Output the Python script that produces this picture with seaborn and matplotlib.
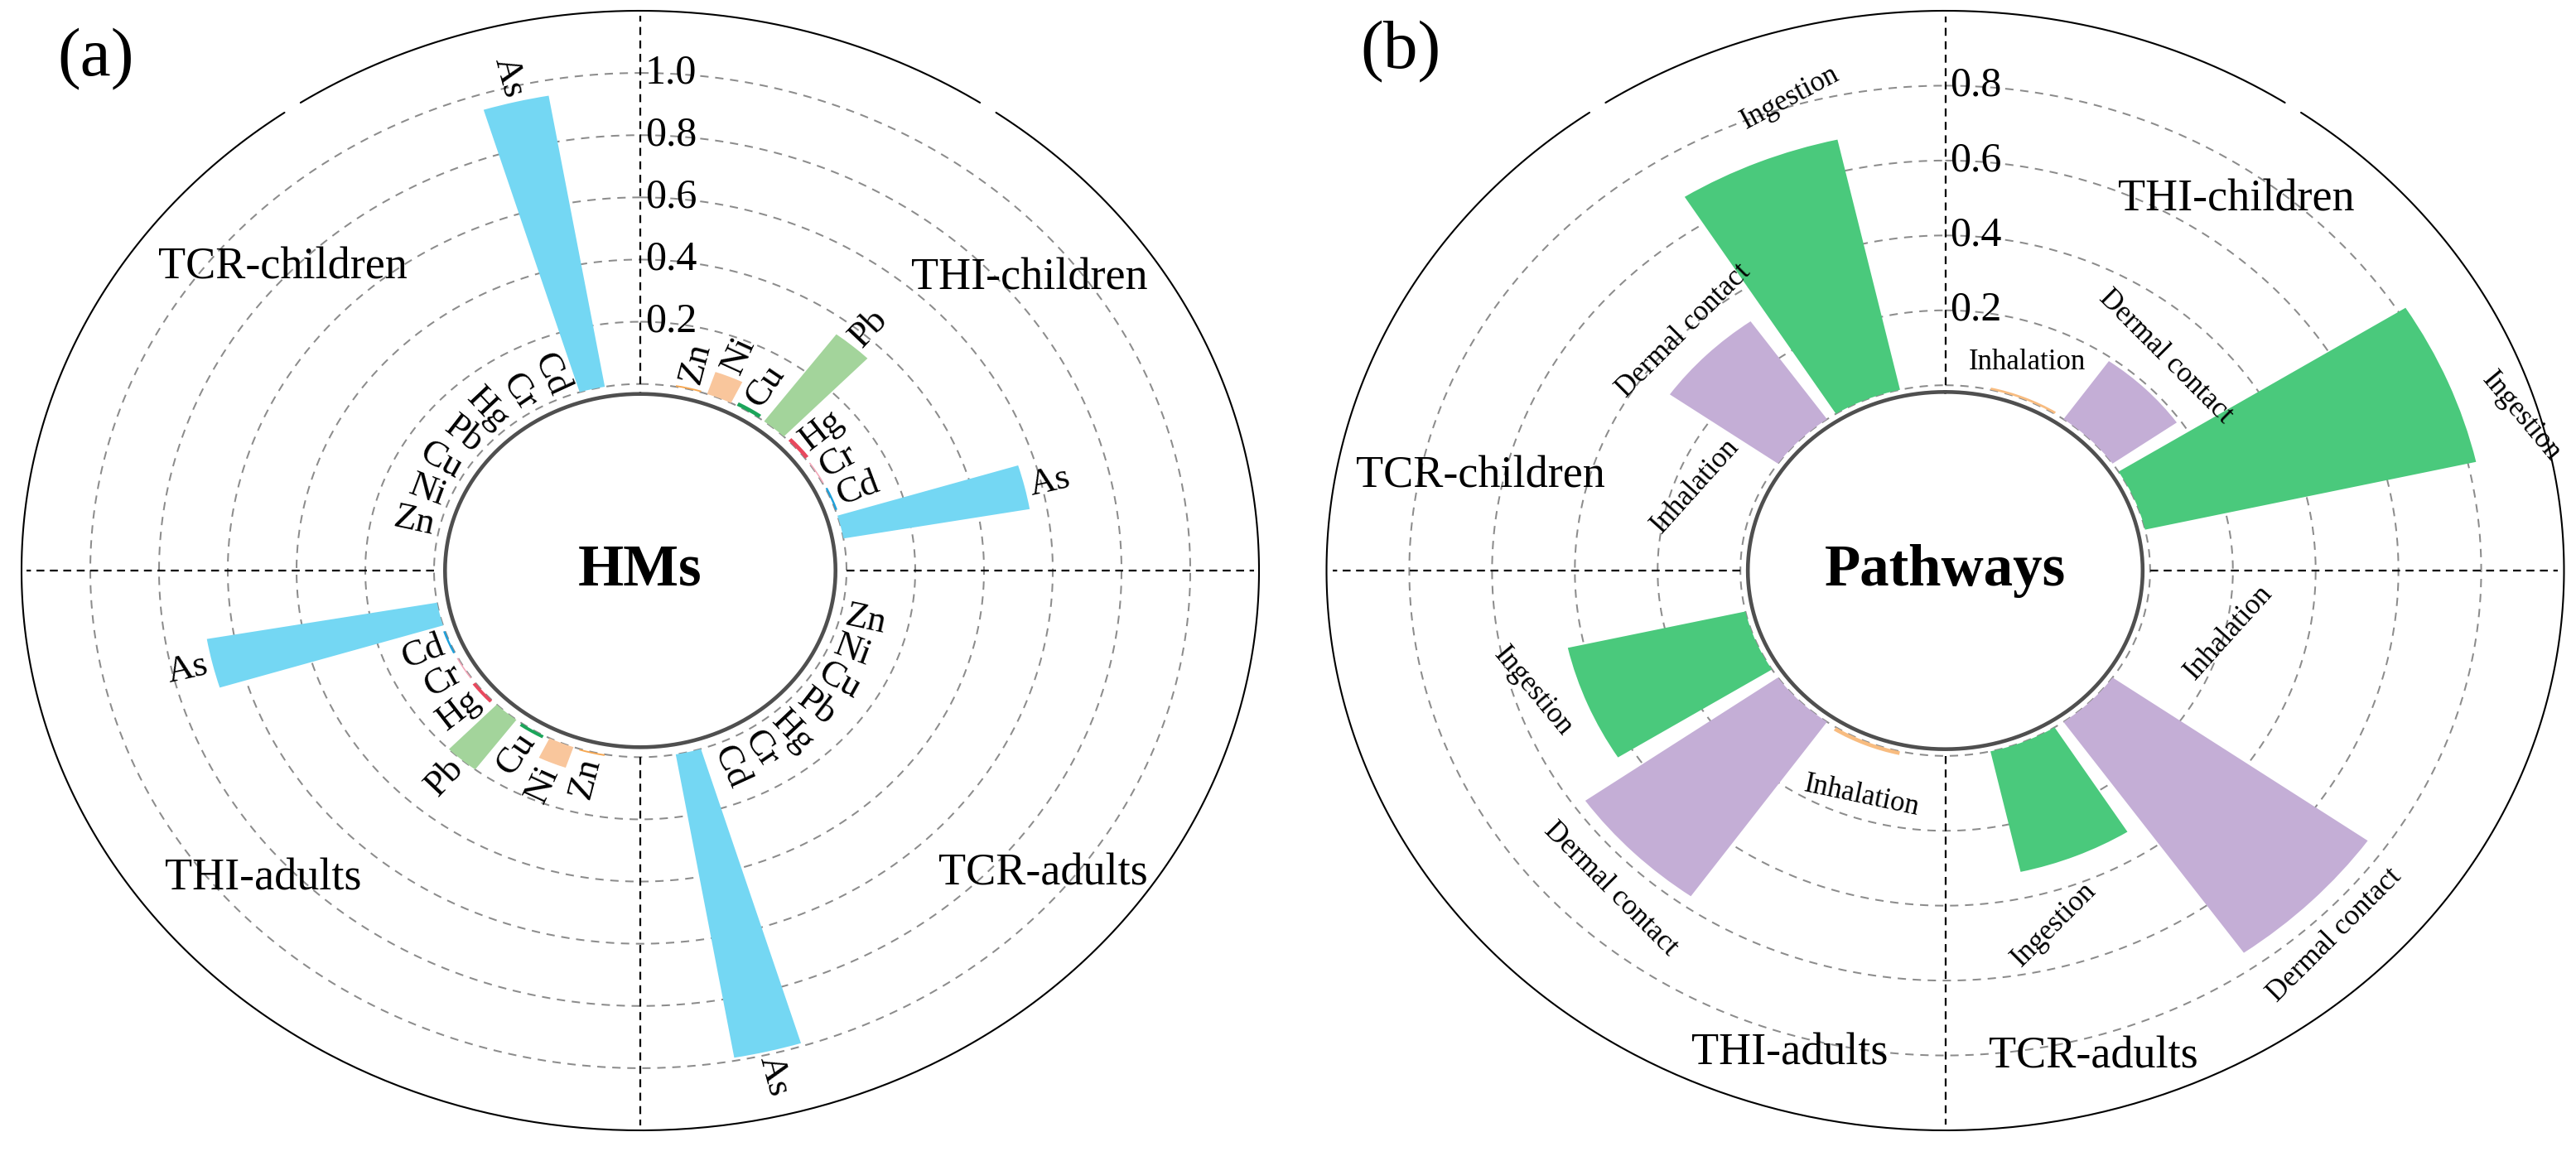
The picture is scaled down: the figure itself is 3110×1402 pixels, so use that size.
"""
Circular bar charts: health risk indices by heavy metal (a) and by exposure pathway (b)
"""

import numpy as np
import matplotlib
matplotlib.use("Agg")
import matplotlib.pyplot as plt
import seaborn as sns
from matplotlib.transforms import offset_copy

# ============================================================================
# Data
# ============================================================================
groups = ["THI-children", "TCR-adults", "THI-adults", "TCR-children"]

metals = ["Zn", "Ni", "Cu", "Pb", "Hg", "Cr", "Cd", "As"]
hm_thi_children = [0.005, 0.075, 0.012, 0.35, 0.012, 0.004, 0.006, 0.55]
hm_tcr_adults = [0.0, 0.0, 0.0, 0.0, 0.0, 0.0, 0.0, 0.99]
hm_thi_adults = [0.005, 0.07, 0.010, 0.20, 0.010, 0.004, 0.006, 0.68]
hm_tcr_children = [0.0, 0.0, 0.0, 0.0, 0.0, 0.0, 0.0, 0.95]

pathways = ["Inhalation", "Dermal contact", "Ingestion"]
pw_thi_children = [0.006, 0.19, 0.82]
pw_tcr_adults = [0.0, 0.755, 0.33]
pw_thi_adults = [0.010, 0.57, 0.44]
pw_tcr_children = [0.0, 0.32, 0.685]

hm_ticks = [0.2, 0.4, 0.6, 0.8, 1.0]
pw_ticks = [0.2, 0.4, 0.6, 0.8]

# ============================================================================
# Style
# ============================================================================
metal_colors = ["#F6A650", "#F9C69C", "#1BA55A", "#A3D49B",
                "#E8495E", "#F4A7B9", "#1FA0DA", "#74D7F3"]
pathway_colors = ["#F8BC80", "#C4AED6", "#4AC97C"]

W_PX, H_PX, DPI = 3110, 1402, 100
HALF_W, HALF_H = 747, 676
ASPECT = HALF_W / HALF_H

sns.set_theme(style="white")
plt.rcParams['font.family'] = ['Liberation Serif', 'DejaVu Serif']
plt.rcParams['text.color'] = 'black'

fig = plt.figure(figsize=(W_PX / DPI, H_PX / DPI), dpi=DPI)


def px_rect(cx, cy):
    return [(cx - HALF_W) / W_PX, 1 - (cy + HALF_H) / H_PX,
            2 * HALF_W / W_PX, 2 * HALF_H / H_PX]


def fig_text(x, y, s, **kw):
    fig.text(x / W_PX, 1 - y / H_PX, s, ha='center', va='center',
             color='black', **kw)


def setup_polar(ax, r_origin, r_hole, r_max, rings):
    ax.set_theta_zero_location('N')
    ax.set_theta_direction(-1)
    ax.set_rorigin(r_origin)
    ax.set_ylim(r_hole, r_max)
    ax.set_aspect('auto')
    ax.set_xticks([])
    ax.set_yticks([])
    ax.grid(False)
    for s in ax.spines.values():
        s.set_visible(False)

    full = np.linspace(0, 2 * np.pi, 721)
    # dashed grey rings
    for r in [0.0] + list(rings):
        ax.plot(full, np.full_like(full, r), ls=(0, (5, 4)), color='#8c8c8c',
                lw=1.45, zorder=1)
    # quadrant dividers
    for t in np.deg2rad([0, 90, 180, 270]):
        ax.plot([t, t], [0, r_max - 0.015], ls=(0, (4.3, 3)), color='black',
                lw=1.6, zorder=2)
    # outer frame (two arcs with small gaps top-left / top-right)
    for a0, a1 in [(-33.3, 33.3), (35.1, 324.9)]:
        seg = np.deg2rad(np.linspace(a0, a1, 400))
        ax.plot(seg, np.full_like(seg, r_max), color='black', lw=1.5,
                clip_on=False, zorder=2)
    # inner hole border
    ax.plot(full, np.full_like(full, r_hole), color='#4f4f4f', lw=3.3,
            clip_on=False, zorder=4)


def radial_label(ax, phi_deg, r, s, size):
    phi = np.deg2rad(phi_deg)
    ang = np.degrees(np.arctan2(np.cos(phi), np.sin(phi) * ASPECT))
    if np.sin(phi) >= 0:
        rot, ha = ang, 'left'
    else:
        rot, ha = ang + 180, 'right'
    ax.text(phi, r, s, rotation=rot, rotation_mode='anchor', ha=ha,
            va='center', fontsize=size, color='black', zorder=6)


def ring_labels(ax, ticks):
    tr = offset_copy(ax.transData, fig=fig, x=6, y=0, units='dots')
    for t in ticks:
        ax.text(0, t, f"{t:.1f}", transform=tr, ha='left', va='center',
                fontsize=36, color='black', zorder=6)


# ============================================================================
# (a) Heavy metals
# ============================================================================
ax_a = fig.add_axes(px_rect(773, 689), projection='polar')
setup_polar(ax_a, -0.6, -0.032, 1.2, hm_ticks)

hm_values = [hm_thi_children, hm_tcr_adults, hm_thi_adults, hm_tcr_children]
for q, vals in enumerate(hm_values):
    phis = 90 * q + 9 * (np.arange(len(metals)) + 1) + 4.5
    ax_a.bar(np.deg2rad(phis), vals, width=np.deg2rad(7.2), bottom=0,
             color=metal_colors, linewidth=0, zorder=3)
    for phi, v, m in zip(phis, vals, metals):
        radial_label(ax_a, phi, v + 0.015, m, 32)

ring_labels(ax_a, hm_ticks)
ax_a.text(0, -0.6, "HMs", ha='center', va='center', fontsize=51,
          fontweight='bold', color='black', zorder=6)

fig_text(116, 72, "(a)", fontsize=60)
fig_text(341, 323, "TCR-children", fontsize=39)
fig_text(1243, 336, "THI-children", fontsize=39)
fig_text(318, 1061, "THI-adults", fontsize=39)
fig_text(1259, 1055, "TCR-adults", fontsize=39)

# ============================================================================
# (b) Exposure pathways
# ============================================================================
ax_b = fig.add_axes(px_rect(2348.5, 689), projection='polar')
setup_polar(ax_b, -0.495, -0.018, 1.0, pw_ticks)

# label placement per group: (angle shift, radial pad, rotation)
pw_label_style = [
    [(-3, 0.09, 0), (-2, 0.095, -45), (6, 0.137, -50)],
    [(-9, 0.21, 48), (1, 0.105, 45), (7, 0.156, 45)],
    [(-4, 0.13, -12), (-1.5, 0.108, -45), (4.5, 0.113, -50)],
    [(-2, 0.149, 48), (0.3, 0.085, 45), (6, 0.138, 28)],
]

pw_values = [pw_thi_children, pw_tcr_adults, pw_thi_adults, pw_tcr_children]
for q, vals in enumerate(pw_values):
    phis = 90 * q + 22.5 * (np.arange(len(pathways)) + 1)
    ax_b.bar(np.deg2rad(phis), vals, width=np.deg2rad(19.5), bottom=0,
             color=pathway_colors, linewidth=0, zorder=3)
    for phi, v, p, (dphi, pad, rot) in zip(phis, vals, pathways, pw_label_style[q]):
        ax_b.text(np.deg2rad(phi + dphi), v + pad, p, rotation=rot,
                  rotation_mode='anchor', ha='center', va='center',
                  fontsize=25, color='black', zorder=6)

ring_labels(ax_b, pw_ticks)
ax_b.text(0, -0.495, "Pathways", ha='center', va='center', fontsize=51,
          fontweight='bold', color='black', zorder=6)

fig_text(1691, 63, "(b)", fontsize=60)
fig_text(2700, 241, "THI-children", fontsize=39)
fig_text(1787, 575, "TCR-children", fontsize=39)
fig_text(2161, 1272, "THI-adults", fontsize=39)
fig_text(2527, 1276, "TCR-adults", fontsize=39)

fig.savefig("out.png", dpi=DPI, facecolor='white')
plt.close(fig)
